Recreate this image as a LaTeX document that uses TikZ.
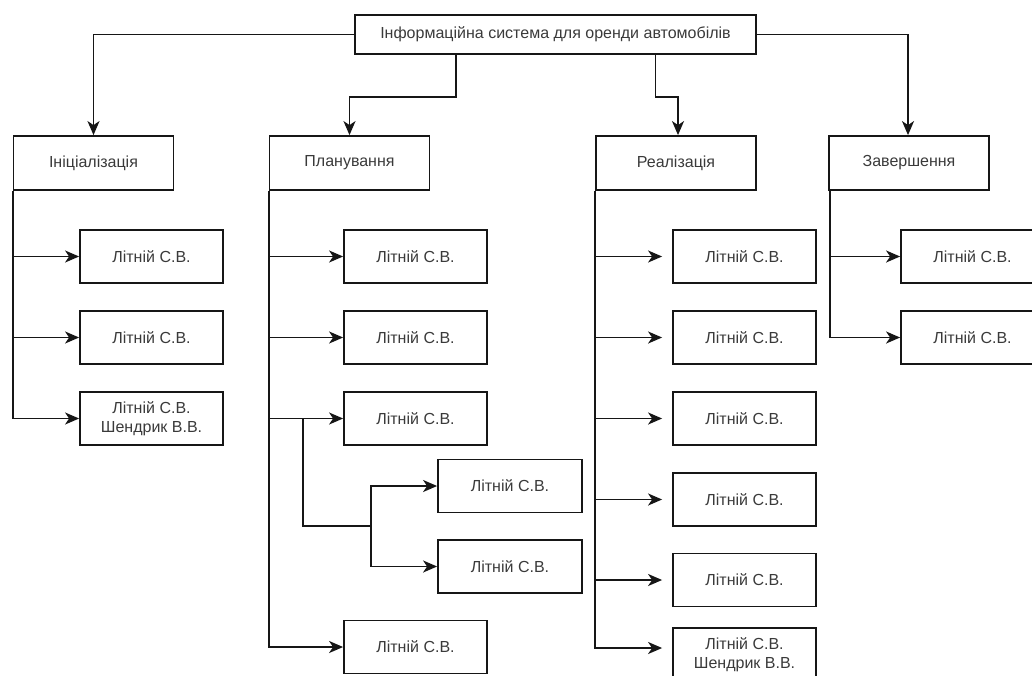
\documentclass[tikz,border=0pt]{standalone}
\usepackage{fontspec}
\setmainfont{Liberation Sans}
\usetikzlibrary{arrows.meta}
\definecolor{ink}{HTML}{161616}
\definecolor{txt}{HTML}{3A3A3A}
\begin{document}
\begin{tikzpicture}[x=1pt,y=-1pt,
  box/.style={draw=ink,line width=1.8pt,inner sep=0pt,align=center,
    text=txt,font=\fontsize{16}{19}\selectfont},
  topbox/.style={box,minimum width=401pt,minimum height=39pt},
  phase/.style={box,minimum width=160pt,minimum height=54pt},
  leaf/.style={box,minimum width=143pt,minimum height=53pt},
  link/.style={draw=ink,line width=1.8pt},
  arr/.style={link,-{Stealth[length=14pt,width=12pt,inset=4pt]}}]
\useasboundingbox (0,0) rectangle (1032,675);
\clip (0,0) rectangle (1032,675);

% root and phases
\node[topbox] (top) at (555.5,34.5) {Інформаційна система для оренди автомобілів};
\node[phase] (ini)  at (93.5,163)  {Ініціалізація};
\node[phase] (plan) at (349.5,163) {Планування};
\node[phase] (real) at (676,163)   {Реалізація};
\node[phase] (zav)  at (909,163)   {Завершення};

\draw[arr] (top.west) -| (ini.north);
\draw[arr] ([xshift=-99.5pt]top.south) -- ++(0,42) -| (plan.north);
\draw[arr] ([xshift=100pt]top.south) -- ++(0,42) -| ([xshift=2pt]real.north);
\draw[arr] (top.east) -| ([xshift=-1pt]zav.north);

% Ініціалізація
\node[leaf] (i1) at (151.5,256.5) {Літній С.В.};
\node[leaf] (i2) at (151.5,337.5) {Літній С.В.};
\node[leaf] (i3) at (151.5,418.5) {Літній С.В.\\Шендрик В.В.};
\foreach \n in {i1,i2,i3}{\draw[arr] (ini.south west) |- (\n.west);}

% Планування
\node[leaf] (p1) at (415.5,256.5) {Літній С.В.};
\node[leaf] (p2) at (415.5,337.5) {Літній С.В.};
\node[leaf] (p3) at (415.5,418.5) {Літній С.В.};
\node[leaf,minimum width=144pt] (p4) at (510,486) {Літній С.В.};
\node[leaf,minimum width=144pt] (p5) at (510,566.5) {Літній С.В.};
\node[leaf] (p6) at (415.5,647) {Літній С.В.};
\foreach \n in {p1,p2,p3,p6}{\draw[arr] (plan.south west) |- (\n.west);}
\coordinate (pj) at (303,418.5);
\coordinate (pk) at (371,526);
\draw[link] (pj) |- (pk);
\draw[arr] (pk) |- (p4.west);
\draw[arr] (pk) |- (p5.west);

% Реалізація
\node[leaf] (r1) at (744.5,256.5) {Літній С.В.};
\node[leaf] (r2) at (744.5,337.5) {Літній С.В.};
\node[leaf] (r3) at (744.5,418.5) {Літній С.В.};
\node[leaf] (r4) at (744.5,499.5) {Літній С.В.};
\node[leaf] (r5) at (744.5,580)   {Літній С.В.};
\node[leaf] (r6) at (744.5,654.5) {Літній С.В.\\Шендрик В.В.};
\foreach \n in {r1,r2,r3,r4,r5}{\draw[arr,shorten >=10pt] (real.south west) |- (\n.west);}
\draw[arr,shorten >=10pt] (real.south west) |- ([yshift=6.5pt]r6.west);

% Завершення
\node[leaf] (z1) at (972.5,256.5) {Літній С.В.};
\node[leaf] (z2) at (972.5,337.5) {Літній С.В.};
\foreach \n in {z1,z2}{\draw[arr] ([xshift=2pt]zav.south west) |- (\n.west);}
\end{tikzpicture}
\end{document}
